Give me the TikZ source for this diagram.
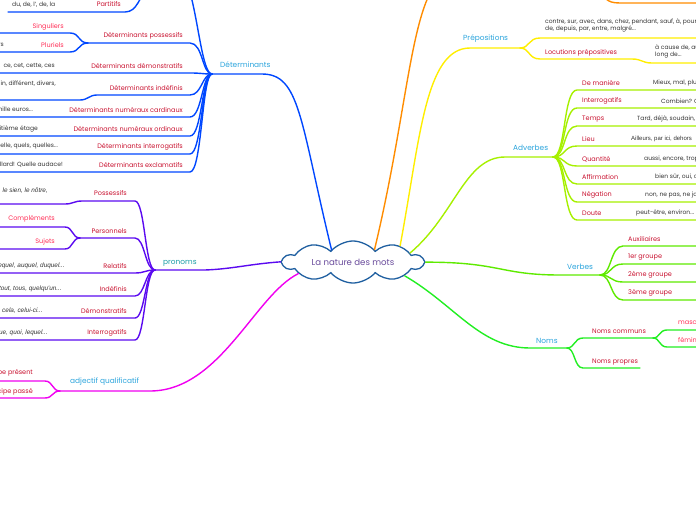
\documentclass[tikz,border=0pt]{standalone}
\usepackage{fontspec}
\setmainfont{Poppins}
\newfontfamily\arialfont{Liberation Sans}
\usepackage{tikz}
\usetikzlibrary{shapes.symbols}
\definecolor{nmblue}{HTML}{0047FF}
\definecolor{nmviolet}{HTML}{5B0AF0}
\definecolor{nmmagenta}{HTML}{F000F0}
\definecolor{nmorange}{HTML}{FF8C00}
\definecolor{nmyellow}{HTML}{FFEE00}
\definecolor{nmlime}{HTML}{A6F000}
\definecolor{nmgreen}{HTML}{5EEA00}
\definecolor{nmnoms}{HTML}{22EE22}
\definecolor{nmcyan}{HTML}{2BA4DC}
\definecolor{nmteal}{HTML}{1A9CA6}
\definecolor{nmred}{HTML}{C8102E}
\definecolor{nmpink}{HTML}{FF2D55}
\definecolor{nmgray}{HTML}{333333}
\definecolor{nmcloud}{HTML}{1F5FA0}
\definecolor{nmpurple}{HTML}{6A4C9C}

\begin{document}
\begin{tikzpicture}[x=1pt,y=-1pt,
  every node/.style={inner sep=0pt,font=\fontsize{6.5}{7.5}\selectfont},
  lbl/.style={text=nmred,anchor=east},
  sublbl/.style={text=nmpink,anchor=east},
  exmpl/.style={text=nmgray,font=\fontsize{6}{7}\selectfont,anchor=east},
  pex/.style={text=nmgray,font=\fontsize{6.4}{7.4}\arialfont\itshape,anchor=east},
  branchlbl/.style={text=nmcyan,font=\fontsize{7.4}{8.4}\selectfont,anchor=west},
  link/.style={line width=1.4pt,line cap=round},
  detline/.style={link,draw=nmblue},
  pronline/.style={link,draw=nmviolet},
  adjline/.style={link,draw=nmmagenta},
  conjline/.style={link,draw=nmorange},
  prepline/.style={link,draw=nmyellow},
  advline/.style={link,draw=nmlime},
  verbline/.style={link,draw=nmgreen},
  nomsline/.style={link,draw=nmnoms}]
\useasboundingbox (0,0) rectangle (696,520);
\clip (0,0) rectangle (696,520);

% centre
\node[cloud,cloud puffs=10,cloud puff arc=100,aspect=4.4,draw=nmcloud,line width=1.3pt,fill=white,
  minimum width=140pt,minimum height=34pt,text=nmpurple,font=\fontsize{8.6}{9.6}\selectfont]
  (root) at (353,262) {La nature des mots};

% Determinants
\coordinate (det) at (212,74);
\node[branchlbl] (detlbl) at (220,65) {Déterminants};
\draw[detline] (root.150) .. controls (300,120) and (300,74) .. (262,74) -- (det);
\coordinate (art) at (188,-14);
\coordinate (arthub) at (150,-22);
\draw[detline] (det) .. controls (202,74) and (198,15) .. (art);
\coordinate (partR) at (125,12);
\coordinate (partL) at (8,12);
\draw[detline] (arthub) .. controls (140,-2) and (137,12) .. (partR) -- (partL);
\node[lbl] (partlbl) at (121,4.5) {Partitifs};
\node[exmpl,anchor=west] (partex) at (12,4.5) {du, de, l', de, la};
% possessifs
\coordinate (poss) at (88,43);
\coordinate (possR) at (190,43);
\draw[detline] (det) .. controls (202,74) and (203,43) .. (possR) -- (poss);
\node[lbl] (posslbl) at (183,36) {Déterminants possessifs};
\coordinate (singR) at (70,33);
\coordinate (singL) at (-5,33);
\coordinate (plurR) at (70,52);
\coordinate (plurL) at (-5,52);
\draw[detline] (poss) .. controls (78,43) and (80,33) .. (singR) -- (singL);
\draw[detline] (poss) .. controls (78,43) and (80,52) .. (plurR) -- (plurL);
\node[sublbl] (singlbl) at (64,27) {Singuliers};
\node[sublbl] (plurlbl) at (64,45) {Pluriels};
\node[exmpl] (plurex) at (4,45) {mes, tes, ses, leurs};
% indefinis
\coordinate (indR) at (190,95);
\coordinate (indM) at (97,95);
\coordinate (indN) at (80,100);
\coordinate (indL) at (-5,100);
\draw[detline] (det) .. controls (202,74) and (202,95) .. (indR) -- (indM)
  .. controls (89,95) and (88,100) .. (indN) -- (indL);
\node[lbl] (indlbl) at (183,88) {Déterminants indéfinis};
\node[exmpl] (index) at (56,84) {certain, différent, divers,};
% autres determinants
\foreach \n/\y/\lab/\ex/\xr in {dem/73/Déterminants démonstratifs/{ce, cet, cette, ces}/55,
    card/117/Déterminants numéraux cardinaux/{deux, trois, mille euros...}/33,
    ord/136/Déterminants numéraux ordinaux/{le huitième étage}/38,
    int/154/Déterminants interrogatifs/{quel, quelle, quels, quelles...}/58,
    excl/172/Déterminants exclamatifs/{Quel brouillard! Quelle audace!}/63}
  {\coordinate (\n R) at (190,\y);
   \coordinate (\n L) at (-5,\y);
   \draw[detline] (det) .. controls (202,74) and (202,\y) .. (\n R) -- (\n L);
   \node[lbl] (\n lbl) at (183,\y-7) {\lab};
   \node[exmpl] (\n ex) at (\xr,\y-7.5) {\ex};}

% pronoms
\coordinate (pron) at (155,270);
\node[branchlbl,text=nmteal] (pronlbl) at (163,263) {pronoms};
\draw[pronline] (root.180) .. controls (250,264) and (232,269) .. (205,270) -- (pron);
\coordinate (ppossR) at (135,201);
\coordinate (ppossM) at (82,201);
\coordinate (ppossN) at (65,204);
\coordinate (ppossL) at (-5,204);
\draw[pronline] (pron) .. controls (145,270) and (145,201) .. (ppossR) -- (ppossM)
  .. controls (74,201) and (73,204) .. (ppossN) -- (ppossL);
\node[lbl] (pposslbl) at (127,193) {Possessifs};
\node[pex] (ppossex) at (48,191) {le mien, le sien, le nôtre,};
\coordinate (pers) at (80,238);
\coordinate (persR) at (135,238);
\draw[pronline] (pron) .. controls (145,270) and (145,238) .. (persR) -- (pers);
\node[lbl] (perslbl) at (127,231) {Personnels};
\coordinate (complR) at (65,227);
\coordinate (complL) at (-5,227);
\coordinate (sujR) at (65,249);
\coordinate (sujL) at (-5,249);
\draw[pronline] (pers) .. controls (72,238) and (73,227) .. (complR) -- (complL);
\draw[pronline] (pers) .. controls (72,238) and (73,249) .. (sujR) -- (sujL);
\node[sublbl] (compllbl) at (55,219) {Compléments};
\node[sublbl] (sujlbl) at (55,242) {Sujets};
\foreach \n/\y/\lab/\ex/\xr in {rel/273/Relatifs/{lequel, auquel, duquel...}/65,
    ind/296/Indéfinis/{tout, tous, quelqu'un...}/62,
    dem/318/Démonstratifs/{ceci, cela, celui-ci...}/43,
    int/340/Interrogatifs/{qui, que, quoi, lequel...}/48}
  {\coordinate (p\n R) at (135,\y);
   \coordinate (p\n L) at (-5,\y);
   \draw[pronline] (pron) .. controls (145,270) and (145,\y) .. (p\n R) -- (p\n L);
   \node[lbl] (p\n lbl) at (127,\y-7) {\lab};
   \node[pex] (p\n ex) at (\xr,\y-7) {\ex};}

% adjectif qualificatif
\coordinate (adj) at (60,391);
\node[branchlbl] (adjlbl) at (70,382) {adjectif qualificatif};
\draw[adjline] (root.192) .. controls (255,295) and (220,391) .. (150,391) -- (adj);
\coordinate (presR) at (45,381);
\coordinate (presL) at (-5,381);
\coordinate (pasR) at (45,398);
\coordinate (pasL) at (-5,398);
\draw[adjline] (adj) .. controls (52,391) and (53,381) .. (presR) -- (presL);
\draw[adjline] (adj) .. controls (52,391) and (53,398) .. (pasR) -- (pasL);
\node[lbl] (preslbl) at (33,373) {participe présent};
\node[lbl] (paslbl) at (33,391.5) {participe passé};

% branche orange
\coordinate (conj) at (440,-22);
\draw[conjline] (root.30) .. controls (408,110) and (410,10) .. (conj);
\coordinate (conjhub) at (598,-12);
\coordinate (conjL) at (622,3);
\coordinate (conjR) at (700,3);
\draw[conjline] (conjhub) .. controls (606,2) and (610,3) .. (conjL) -- (conjR);

% prepositions
\coordinate (prep) at (520,48);
\node[branchlbl] (preplbl) at (463,39) {Prépositions};
\draw[prepline] (root.19) .. controls (420,140) and (425,48) .. (470,48) -- (prep);
\coordinate (prep1L) at (540,38);
\coordinate (prep1R) at (700,38);
\draw[prepline] (prep) .. controls (530,48) and (528,38) .. (prep1L) -- (prep1R);
\node[exmpl,anchor=north west,align=left] (prep1ex) at (545,18.5)
  {contre, sur, avec, dans, chez, pendant, sauf, à, pour,\\de, depuis, par, entre, malgré...};
\coordinate (prep2L) at (540,59);
\coordinate (prep2M) at (632,59);
\coordinate (prep2N) at (652,63);
\coordinate (prep2R) at (700,63);
\draw[prepline] (prep) .. controls (530,48) and (528,59) .. (prep2L) -- (prep2M)
  .. controls (642,59) and (642,63) .. (prep2N) -- (prep2R);
\node[lbl,anchor=west] (prep2lbl) at (545,53) {Locutions prépositives};
\node[exmpl,anchor=north west,align=left] (prep2ex) at (655,44.5)
  {à cause de, au lieu de, le\\long de...};

% adverbes
\coordinate (adv) at (553,157);
\node[branchlbl] (advlbl) at (513,148) {Adverbes};
\draw[advline] (root.9) .. controls (455,215) and (465,157) .. (505,157) -- (adv);
\foreach \i/\y/\lab/\ex/\xt in {1/90/De manière/{Mieux, mal, plutôt}/653,
    2/108/Interrogatifs/{Combien? Comment?}/661,
    3/126/Temps/{Tard, déjà, soudain, hier}/637,
    4/146/Lieu/{\arialfont Ailleurs, par ici, dehors}/631,
    5/166/Quantité/{aussi, encore, trop}/644,
    6/184/Affirmation/{bien sûr, oui, certes}/655,
    7/202/Négation/{non, ne pas, ne jamais}/645,
    8/220/Doute/{peut-être, environ...}/636}
  {\coordinate (advL\i) at (577,\y);
   \coordinate (advR\i) at (700,\y);
   \draw[advline] (adv) .. controls (566,157) and (563,\y) .. (advL\i) -- (advR\i);
   \node[lbl,anchor=west] (advlbl\i) at (582,\y-7) {\lab};
   \node[exmpl,anchor=west] (advex\i) at (\xt,\y-7) {\ex};}

% verbes
\coordinate (verb) at (600,275);
\node[branchlbl] (verblbl) at (567,267) {Verbes};
\draw[verbline] (root.0) .. controls (500,262) and (500,275) .. (560,275) -- (verb);
\foreach \i/\y/\lab in {1/246/Auxiliaires,2/264/1er groupe,3/282/2ème groupe,4/300/3ème groupe}
  {\coordinate (verbL\i) at (623,\y);
   \coordinate (verbR\i) at (700,\y);
   \draw[verbline] (verb) .. controls (612,275) and (610,\y) .. (verbL\i) -- (verbR\i);
   \node[lbl,anchor=west] (verblbl\i) at (628,\y-7) {\lab};}

% noms
\coordinate (noms) at (567,348);
\node[branchlbl] (nomslbl) at (536,341) {Noms};
\draw[nomsline] (root.345) .. controls (455,305) and (480,348) .. (530,348) -- (noms);
\coordinate (comm) at (653,338);
\coordinate (commL) at (583,338);
\draw[nomsline] (noms) .. controls (575,348) and (574,338) .. (commL) -- (comm);
\node[lbl,anchor=west] (commlbl) at (592,331) {Noms communs};
\coordinate (mascL) at (667,330);
\coordinate (mascR) at (700,330);
\coordinate (femL) at (667,347);
\coordinate (femR) at (700,347);
\draw[nomsline] (comm) .. controls (660,338) and (659,330) .. (mascL) -- (mascR);
\draw[nomsline] (comm) .. controls (660,338) and (659,347) .. (femL) -- (femR);
\node[sublbl,anchor=west] (masclbl) at (678,322) {masculin};
\node[sublbl,anchor=west] (femlbl) at (678,340) {féminin};
\coordinate (propL) at (583,368);
\coordinate (propR) at (640,368);
\draw[nomsline] (noms) .. controls (575,348) and (574,368) .. (propL) -- (propR);
\node[lbl,anchor=west] (proplbl) at (592,362) {Noms propres};
\end{tikzpicture}
\end{document}
